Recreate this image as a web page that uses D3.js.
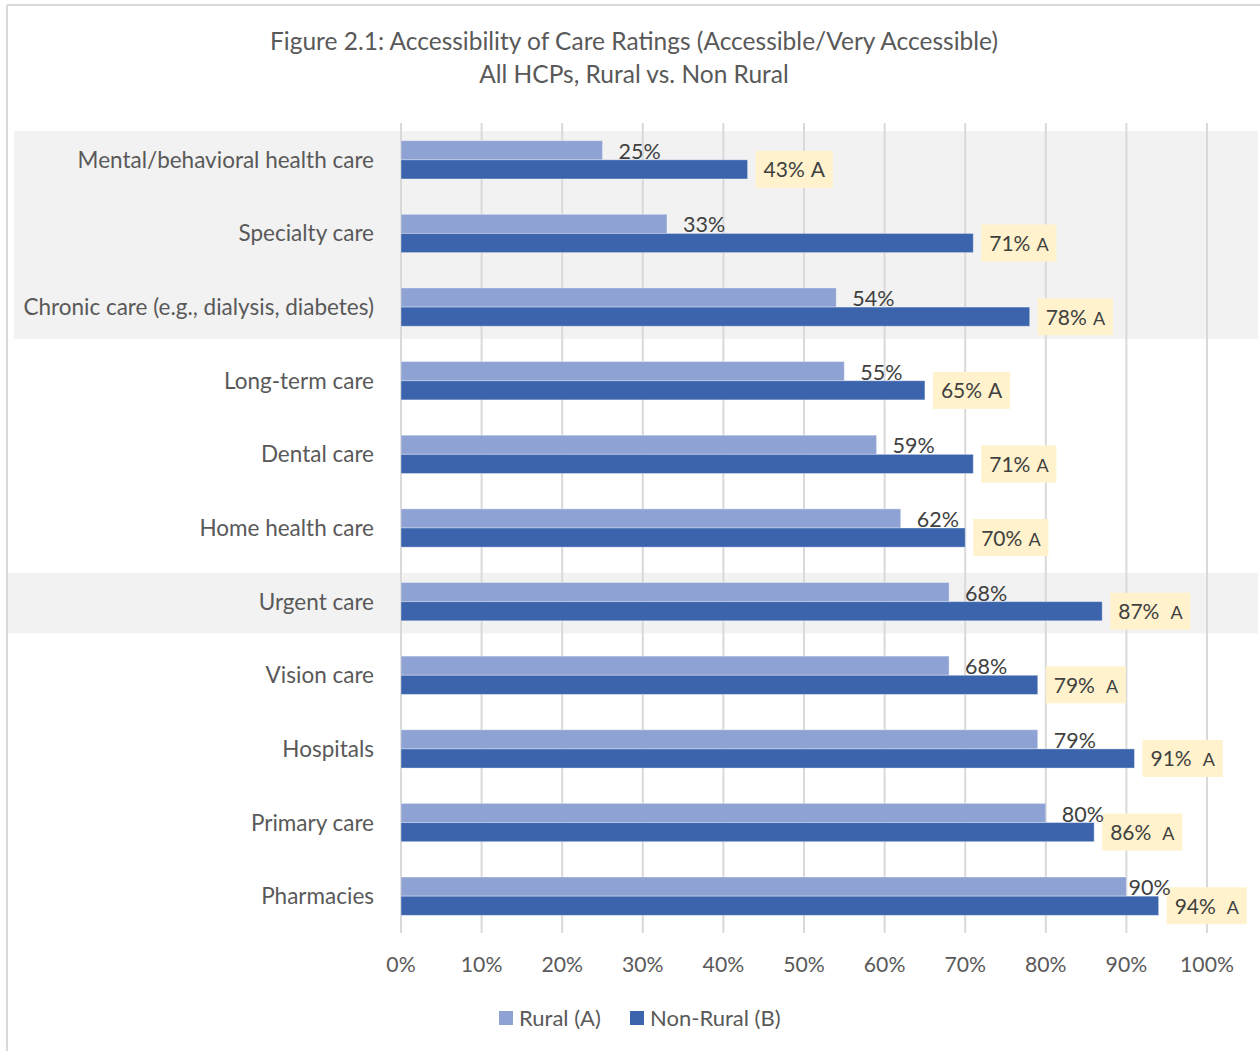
<!DOCTYPE html>
<html>
<head>
<meta charset="utf-8">
<script src="https://cdn.jsdelivr.net/npm/d3@7"></script>
<style>
  body { margin: 0; background: #fff; }
  svg { font-family: Lato, "Open Sans", sans-serif; }
</style>
</head>
<body>
<div id="chart"></div>
<script>
// data
const categories = [
    "Mental/behavioral health care",
    "Specialty care",
    "Chronic care (e.g., dialysis, diabetes)",
    "Long-term care",
    "Dental care",
    "Home health care",
    "Urgent care",
    "Vision care",
    "Hospitals",
    "Primary care",
    "Pharmacies"
];
const rural = [25, 33, 54, 55, 59, 62, 68, 68, 79, 80, 90];
const nonRural = [43, 71, 78, 65, 71, 70, 87, 79, 91, 86, 94];
const sigLetter = ["A", "A", "A", "A", "A", "A", "A", "A", "A", "A", "A"];
const xTicks = [0, 10, 20, 30, 40, 50, 60, 70, 80, 90, 100];
const seriesNames = ["Rural (A)", "Non-Rural (B)"];
const titleLines = [
    "Figure 2.1: Accessibility of Care Ratings (Accessible/Very Accessible)",
    "All HCPs, Rural vs. Non Rural"
];

// styling for the significance letter (small vs. same size, spacing)
const sigStyle = ["same", "small", "small", "same", "small", "small", "wide", "wide", "wide", "wide", "wide"];

const W = 1260, H = 1051;
const colors = {rural: "#8fa2d4", nonRural: "#3b64ad", grid: "#d9d9d9", text: "#595959", label: "#404040", band: "#f2f2f2", box: "#fff2cc"};

const svg = d3.select("#chart").append("svg")
    .attr("width", W)
    .attr("height", H);

// outer border
svg.append("line").attr("x1", 7).attr("x2", W).attr("y1", 5).attr("y2", 5)
    .attr("stroke", colors.grid).attr("stroke-width", 2);
svg.append("line").attr("x1", 7).attr("x2", 7).attr("y1", 5).attr("y2", H)
    .attr("stroke", colors.grid).attr("stroke-width", 2);

// title
svg.selectAll(".title")
    .data(titleLines)
    .enter().append("text")
    .attr("class", "title")
    .attr("x", 634)
    .attr("y", (d, i) => 50 + i * 33)
    .attr("text-anchor", "middle")
    .attr("font-size", 24.5)
    .attr("fill", colors.text)
    .text(d => d);

// scales
const x = d3.scaleLinear().domain([0, 100]).range([401, 1207]);
const y = d3.scaleBand().domain(categories).range([123, 933]);
const barH = y.bandwidth() * 0.26;

// shaded rows
const bands = [
    {from: 0, to: 2, x0: 14},
    {from: 6, to: 6, x0: 8}
];
svg.selectAll(".band")
    .data(bands)
    .enter().append("rect")
    .attr("class", "band")
    .attr("x", d => d.x0)
    .attr("width", d => 1258 - d.x0)
    .attr("y", d => y(categories[d.from]) + 8)
    .attr("height", d => y(categories[d.to]) + y.bandwidth() - 5 - (y(categories[d.from]) + 8))
    .attr("fill", colors.band);

// gridlines
svg.selectAll(".grid")
    .data(xTicks)
    .enter().append("line")
    .attr("class", "grid")
    .attr("x1", d => x(d)).attr("x2", d => x(d))
    .attr("y1", y.range()[0]).attr("y2", y.range()[1])
    .attr("stroke", colors.grid)
    .attr("stroke-width", 2);

// x tick labels
svg.selectAll(".xtick")
    .data(xTicks)
    .enter().append("text")
    .attr("class", "xtick")
    .attr("x", d => x(d))
    .attr("y", 972)
    .attr("text-anchor", "middle")
    .attr("font-size", 21.2)
    .attr("fill", colors.text)
    .text(d => d + "%");

// category labels
svg.selectAll(".ylab")
    .data(categories)
    .enter().append("text")
    .attr("class", "ylab")
    .attr("x", 374)
    .attr("y", d => y(d) + y.bandwidth() / 2 + 8)
    .attr("text-anchor", "end")
    .attr("font-size", 22.5)
    .attr("fill", colors.text)
    .text(d => d);

const mid = d => y(d) + y.bandwidth() / 2;

// bars
svg.selectAll(".bar-r")
    .data(categories)
    .enter().append("rect")
    .attr("class", "bar-r")
    .attr("x", x(0))
    .attr("y", d => mid(d) - barH)
    .attr("width", (d, i) => x(rural[i]) - x(0))
    .attr("height", barH)
    .attr("fill", colors.rural)
    .attr("stroke", "#ffffff").attr("stroke-opacity", 0.35).attr("stroke-width", 1);

svg.selectAll(".bar-n")
    .data(categories)
    .enter().append("rect")
    .attr("class", "bar-n")
    .attr("x", x(0))
    .attr("y", d => mid(d))
    .attr("width", (d, i) => x(nonRural[i]) - x(0))
    .attr("height", barH)
    .attr("fill", colors.nonRural)
    .attr("stroke", "#ffffff").attr("stroke-opacity", 0.35).attr("stroke-width", 1);

// non-rural labels with yellow boxes
const nl = svg.selectAll(".lab-n")
    .data(categories)
    .enter().append("g")
    .attr("class", "lab-n");

nl.append("rect").attr("fill", colors.box);

nl.append("text")
    .attr("font-size", 21)
    .attr("fill", colors.label)
    .each(function(d, i) {
        const t = d3.select(this);
        t.append("tspan").text(nonRural[i] + "%");
        const s = sigStyle[i];
        t.append("tspan")
            .attr("dx", s === "wide" ? 11 : 6)
            .attr("font-size", s === "same" ? 21 : 18)
            .text(sigLetter[i]);
    })
    .attr("x", (d, i) => x(nonRural[i]) + 16)
    .attr("y", d => mid(d) + barH / 2 + 8);

nl.each(function(d, i) {
    const g = d3.select(this);
    const bb = g.select("text").node().getBBox();
    g.select("rect")
        .attr("x", x(nonRural[i]) + 8)
        .attr("y", mid(d) + barH / 2 - 18.5)
        .attr("width", bb.width + 15)
        .attr("height", 37);
});

// rural labels
svg.selectAll(".lab-r")
    .data(categories)
    .enter().append("text")
    .attr("class", "lab-r")
    .attr("y", d => mid(d) - 1)
    .attr("font-size", 21.5)
    .attr("fill", colors.label)
    .text((d, i) => rural[i] + "%")
    .attr("x", function(d, i) {
        const w = this.getComputedTextLength();
        return Math.min(x(rural[i]) + 16, x(95.5) - w);
    });

// legend
const legend = svg.append("g");
const legendX = [499, 630];
seriesNames.forEach((name, i) => {
    legend.append("rect")
        .attr("x", legendX[i])
        .attr("y", 1011)
        .attr("width", 14)
        .attr("height", 14)
        .attr("fill", i === 0 ? colors.rural : colors.nonRural);
    legend.append("text")
        .attr("x", legendX[i] + 20)
        .attr("y", 1026)
        .attr("font-size", 22)
        .attr("fill", colors.text)
        .text(name);
});
</script>
</body>
</html>
